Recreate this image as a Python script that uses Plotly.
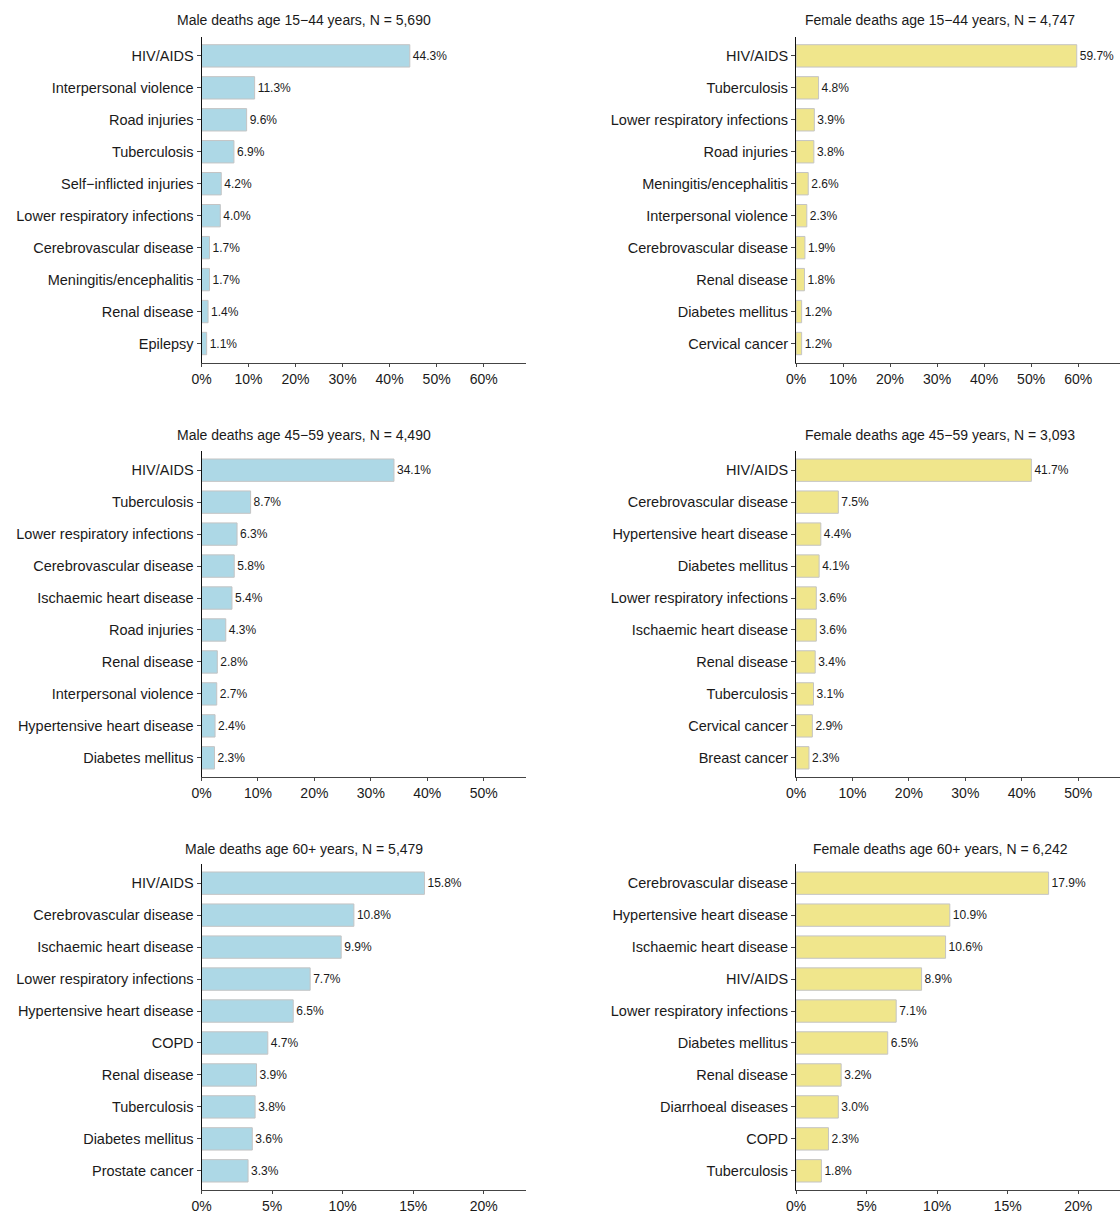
import plotly.graph_objects as go

MINUS = "\u2212"

# ---- data ----
titles = [
    f"Male deaths age 15{MINUS}44 years, N = 5,690",
    f"Female deaths age 15{MINUS}44 years, N = 4,747",
    f"Male deaths age 45{MINUS}59 years, N = 4,490",
    f"Female deaths age 45{MINUS}59 years, N = 3,093",
    "Male deaths age 60+ years, N = 5,479",
    "Female deaths age 60+ years, N = 6,242",
]

m1544_causes = ["HIV/AIDS", "Interpersonal violence", "Road injuries", "Tuberculosis",
                f"Self{MINUS}inflicted injuries", "Lower respiratory infections",
                "Cerebrovascular disease", "Meningitis/encephalitis", "Renal disease", "Epilepsy"]
m1544_values = [44.3, 11.3, 9.6, 6.9, 4.2, 4.0, 1.7, 1.7, 1.4, 1.1]

f1544_causes = ["HIV/AIDS", "Tuberculosis", "Lower respiratory infections", "Road injuries",
                "Meningitis/encephalitis", "Interpersonal violence", "Cerebrovascular disease",
                "Renal disease", "Diabetes mellitus", "Cervical cancer"]
f1544_values = [59.7, 4.8, 3.9, 3.8, 2.6, 2.3, 1.9, 1.8, 1.2, 1.2]

m4559_causes = ["HIV/AIDS", "Tuberculosis", "Lower respiratory infections", "Cerebrovascular disease",
                "Ischaemic heart disease", "Road injuries", "Renal disease", "Interpersonal violence",
                "Hypertensive heart disease", "Diabetes mellitus"]
m4559_values = [34.1, 8.7, 6.3, 5.8, 5.4, 4.3, 2.8, 2.7, 2.4, 2.3]

f4559_causes = ["HIV/AIDS", "Cerebrovascular disease", "Hypertensive heart disease", "Diabetes mellitus",
                "Lower respiratory infections", "Ischaemic heart disease", "Renal disease",
                "Tuberculosis", "Cervical cancer", "Breast cancer"]
f4559_values = [41.7, 7.5, 4.4, 4.1, 3.6, 3.6, 3.4, 3.1, 2.9, 2.3]

m60_causes = ["HIV/AIDS", "Cerebrovascular disease", "Ischaemic heart disease",
              "Lower respiratory infections", "Hypertensive heart disease", "COPD", "Renal disease",
              "Tuberculosis", "Diabetes mellitus", "Prostate cancer"]
m60_values = [15.8, 10.8, 9.9, 7.7, 6.5, 4.7, 3.9, 3.8, 3.6, 3.3]

f60_causes = ["Cerebrovascular disease", "Hypertensive heart disease", "Ischaemic heart disease",
              "HIV/AIDS", "Lower respiratory infections", "Diabetes mellitus", "Renal disease",
              "Diarrhoeal diseases", "COPD", "Tuberculosis"]
f60_values = [17.9, 10.9, 10.6, 8.9, 7.1, 6.5, 3.2, 3.0, 2.3, 1.8]

row_tickvals = [[0, 10, 20, 30, 40, 50, 60], [0, 10, 20, 30, 40, 50], [0, 5, 10, 15, 20]]
row_xmax = [68.9, 57.4, 22.96]

male_color = "#ADD8E6"
female_color = "#F0E68C"

panels = [
    (m1544_causes, m1544_values, male_color),
    (f1544_causes, f1544_values, female_color),
    (m4559_causes, m4559_values, male_color),
    (f4559_causes, f4559_values, female_color),
    (m60_causes, m60_values, male_color),
    (f60_causes, f60_values, female_color),
]

# ---- layout geometry (pixels) ----
W, H = 1120, 1214
col_x = [(201.5, 525.5), (796.0, 1120.0)]
row_y = [(36.7, 362.7), (451.0, 777.0), (864.0, 1190.0)]
title_x = [304, 940]
title_y = [20, 435, 849]

FONT = "Liberation Sans, Arial, Helvetica, sans-serif"
TXT = "#1a1a1a"

fig = go.Figure()
layout = {}
annotations = []

for i, (causes, values, color) in enumerate(panels):
    r, c = divmod(i, 2)
    n = i + 1
    xa = "xaxis" if n == 1 else f"xaxis{n}"
    ya = "yaxis" if n == 1 else f"yaxis{n}"
    xref = "x" if n == 1 else f"x{n}"
    yref = "y" if n == 1 else f"y{n}"

    fig.add_trace(go.Bar(
        x=values, y=causes, orientation="h",
        xaxis=xref, yaxis=yref,
        marker=dict(color=color, line=dict(color="#c4c4c4", width=1)),
        width=0.7,
        text=[f"{v:.1f}%" for v in values],
        textposition="outside",
        textfont=dict(size=12, color=TXT, family=FONT),
        constraintext="none",
        cliponaxis=False,
        showlegend=False,
        hoverinfo="x+y",
    ))

    x0, x1 = col_x[c]
    y0, y1 = row_y[r]
    layout[xa] = dict(
        domain=[x0 / W, min(x1 / W, 1.0)],
        anchor=yref,
        range=[0, row_xmax[r]],
        tickvals=row_tickvals[r],
        ticktext=[f"{t}%" for t in row_tickvals[r]],
        showgrid=False, zeroline=False,
        showline=True, linecolor="#444", linewidth=1,
        ticks="outside", ticklen=3, tickcolor="#444", tickwidth=1,
        tickfont=dict(size=14, color=TXT, family=FONT),
        fixedrange=True, automargin=False,
    )
    layout[ya] = dict(
        domain=[1 - y1 / H, 1 - y0 / H],
        anchor=xref,
        type="category",
        categoryorder="array",
        categoryarray=causes,
        range=[9.6, -0.6],
        showgrid=False, zeroline=False,
        showline=True, linecolor="#111", linewidth=1,
        ticks="outside", ticklen=4, tickcolor="#444", tickwidth=1,
        tickfont=dict(size=14.5, color=TXT, family=FONT),
        fixedrange=True, automargin=False,
    )
    annotations.append(dict(
        text=titles[i], xref="paper", yref="paper",
        x=title_x[c] / W, y=1 - title_y[r] / H,
        xanchor="center", yanchor="middle", showarrow=False,
        font=dict(size=14, color=TXT, family=FONT),
    ))

fig.update_layout(
    width=W, height=H, autosize=False,
    margin=dict(l=0, r=0, t=0, b=0, autoexpand=False),
    paper_bgcolor="white", plot_bgcolor="white",
    font=dict(family=FONT, color=TXT),
    annotations=annotations,
    **layout,
)

fig.write_html("out.html")
